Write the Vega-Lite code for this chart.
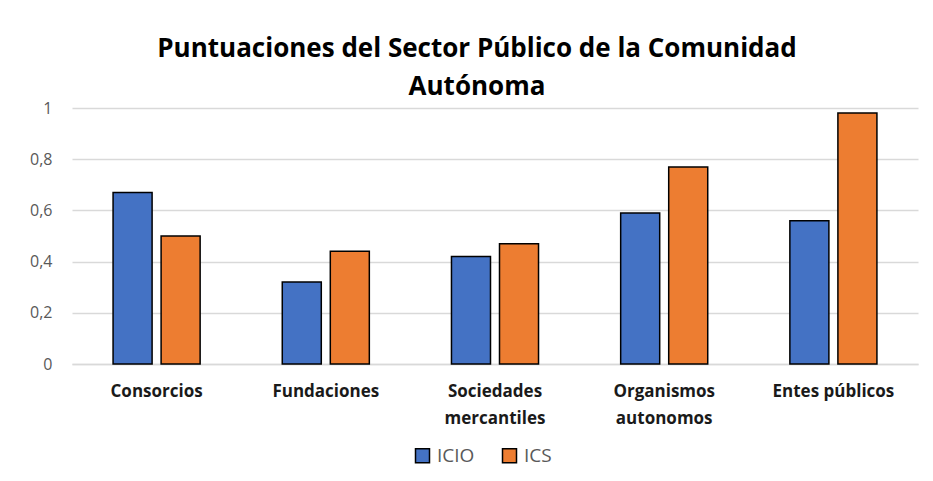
{
  "$schema": "https://vega.github.io/schema/vega-lite/v6.json",
  "autosize": {"type": "none"},
  "width": 846,
  "height": 256,
  "padding": {"left": 72, "top": 108, "right": 15, "bottom": 117},
  "background": "white",
  "title": {
    "text": ["Puntuaciones del Sector Público de la Comunidad", "Autónoma"],
    "font": "Open Sans",
    "fontSize": 26,
    "fontWeight": "bold",
    "color": "#000000",
    "lineHeight": 38,
    "offset": 0,
    "dx": -18,
    "anchor": "middle"
  },
  "data": {
    "values": [
      {"categoria": "Consorcios", "indice": "ICIO", "valor": 0.67},
      {"categoria": "Consorcios", "indice": "ICS", "valor": 0.50},
      {"categoria": "Fundaciones", "indice": "ICIO", "valor": 0.32},
      {"categoria": "Fundaciones", "indice": "ICS", "valor": 0.44},
      {"categoria": "Sociedades mercantiles", "indice": "ICIO", "valor": 0.42},
      {"categoria": "Sociedades mercantiles", "indice": "ICS", "valor": 0.47},
      {"categoria": "Organismos autonomos", "indice": "ICIO", "valor": 0.59},
      {"categoria": "Organismos autonomos", "indice": "ICS", "valor": 0.77},
      {"categoria": "Entes públicos", "indice": "ICIO", "valor": 0.56},
      {"categoria": "Entes públicos", "indice": "ICS", "valor": 0.98}
    ]
  },
  "mark": {"type": "bar", "stroke": "#000000", "strokeWidth": 1.5},
  "encoding": {
    "x": {
      "field": "categoria",
      "type": "nominal",
      "sort": null,
      "scale": {"paddingInner": 0, "paddingOuter": 0},
      "axis": {
        "title": null,
        "labelAngle": 0,
        "labelFont": "Open Sans",
        "labelFontSize": 17,
        "labelFontWeight": "bold",
        "labelColor": "#1a1a1a",
        "labelPadding": 19,
        "labelLineHeight": 27,
        "labelBaseline": "top",
        "ticks": false,
        "domainColor": "#d9d9d9",
        "domainWidth": 1.5,
        "labelExpr": "datum.label == 'Sociedades mercantiles' ? ['Sociedades', 'mercantiles'] : datum.label == 'Organismos autonomos' ? ['Organismos', 'autonomos'] : datum.label"
      }
    },
    "xOffset": {
      "field": "indice",
      "type": "nominal",
      "scale": {"paddingInner": 0.1875, "paddingOuter": 0.855}
    },
    "y": {
      "field": "valor",
      "type": "quantitative",
      "scale": {"domain": [0, 1]},
      "axis": {
        "title": null,
        "values": [0, 0.2, 0.4, 0.6, 0.8, 1],
        "labelExpr": "replace(format(datum.value, '.1~f'), '.', ',')",
        "labelFont": "Open Sans",
        "labelFontSize": 16,
        "labelColor": "#595959",
        "labelPadding": 20,
        "ticks": false,
        "domain": false,
        "gridColor": "#d9d9d9",
        "gridWidth": 1.5
      }
    },
    "color": {
      "field": "indice",
      "type": "nominal",
      "scale": {"domain": ["ICIO", "ICS"], "range": ["#4472C4", "#ED7D31"]},
      "legend": {
        "title": null,
        "orient": "none",
        "legendX": 341,
        "legendY": 338,
        "direction": "horizontal",
        "symbolType": "square",
        "symbolSize": 196,
        "symbolStrokeColor": "#000000",
        "symbolStrokeWidth": 1.5,
        "labelFont": "Open Sans",
        "labelFontSize": 19,
        "labelColor": "#595959",
        "columnPadding": 24,
        "labelOffset": 5
      }
    }
  },
  "config": {"view": {"stroke": null}}
}
